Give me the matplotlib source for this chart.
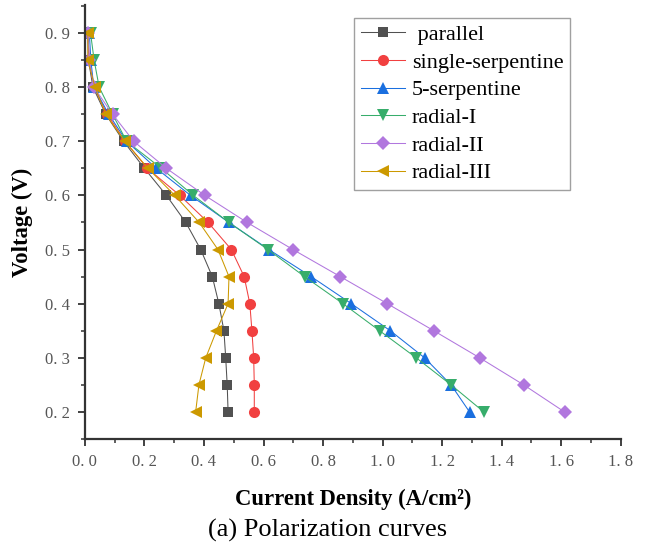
import numpy as np
import matplotlib
matplotlib.use('Agg')
import matplotlib.pyplot as plt
from matplotlib.ticker import MultipleLocator, FuncFormatter

# voltage steps shared by all curves
voltage = [0.9, 0.85, 0.8, 0.75, 0.7, 0.65, 0.6, 0.55, 0.5, 0.45, 0.4, 0.35, 0.3, 0.25, 0.2]

# current density (A/cm2)
parallel = [0.010, 0.012, 0.027, 0.070, 0.130, 0.200, 0.274, 0.339, 0.389, 0.428, 0.450, 0.467, 0.473, 0.478, 0.481]
single_serp = [0.010, 0.015, 0.030, 0.075, 0.135, 0.210, 0.319, 0.414, 0.492, 0.535, 0.554, 0.561, 0.567, 0.569, 0.569]
five_serp = [0.015, 0.020, 0.030, 0.080, 0.140, 0.240, 0.355, 0.484, 0.618, 0.760, 0.895, 1.026, 1.141, 1.230, 1.292]
radial_1 = [0.019, 0.031, 0.048, 0.093, 0.140, 0.257, 0.364, 0.484, 0.615, 0.738, 0.867, 0.990, 1.113, 1.230, 1.340]
radial_2 = [0.010, 0.015, 0.030, 0.093, 0.164, 0.274, 0.403, 0.545, 0.699, 0.858, 1.016, 1.172, 1.326, 1.474, 1.611]
radial_3 = [0.010, 0.010, 0.034, 0.070, 0.134, 0.212, 0.302, 0.384, 0.447, 0.484, 0.481, 0.442, 0.406, 0.383, 0.372]

labels = [' parallel', 'single-serpentine', '5-serpentine', 'radial-I', 'radial-II', 'radial-III']
series = [parallel, single_serp, five_serp, radial_1, radial_2, radial_3]
colors = ['#515151', '#F14040', '#1A6FDF', '#37AD6B', '#B177DE', '#CC9900']
markers = ['s', 'o', '^', 'v', 'D', '<']
msizes = [7, 8, 8.5, 8.5, 7, 8.5]

plt.rcParams['font.family'] = ['Liberation Serif', 'DejaVu Serif']

fig = plt.figure(figsize=(6.48, 5.44), dpi=100)
ax = fig.add_axes([0.131, 0.193, 0.827, 0.798])

for xs, lab, c, m, ms in zip(series, labels, colors, markers, msizes):
    ax.plot(xs, voltage, color=c, lw=0.75, marker=m, markersize=ms,
            markeredgewidth=0, label=lab)

ax.set_xlim(0, 1.8)
ax.set_ylim(0.15, 0.952)
ax.xaxis.set_major_locator(MultipleLocator(0.2))
ax.xaxis.set_minor_locator(MultipleLocator(0.1))
ax.yaxis.set_major_locator(MultipleLocator(0.1))
ax.yaxis.set_minor_locator(MultipleLocator(0.05))
fmt = FuncFormatter(lambda v, p: ('%.1f' % v).replace('.', '. '))
ax.xaxis.set_major_formatter(fmt)
ax.yaxis.set_major_formatter(fmt)

for s in ['top', 'right']:
    ax.spines[s].set_visible(False)
for s in ['left', 'bottom']:
    ax.spines[s].set_linewidth(1.6)
    ax.spines[s].set_color('#333333')

ax.tick_params(which='major', direction='out', length=5, width=1.3,
               color='#333333', labelsize=12, labelcolor='#555555', pad=6)
ax.tick_params(which='minor', direction='out', length=3, width=1.1, color='#333333')

ax.set_xlabel('Current Density (A/cm\u00b2)', fontsize=16.3, fontweight='bold', labelpad=13)
ax.set_ylabel('Voltage (V)', fontsize=16.3, fontweight='bold', labelpad=8)

leg = ax.legend(loc='upper left', bbox_to_anchor=(0.502, 0.97), fontsize=16,
                frameon=True, fancybox=False, edgecolor='#888888',
                handlelength=2.0, handletextpad=0.3, labelspacing=0.32,
                borderpad=0.3, borderaxespad=0)
leg.get_frame().set_linewidth(1.0)

fig.text(0.505, 0.024, '(a) Polarization curves', ha='center', va='center', fontsize=19)

fig.savefig('out.png', dpi=100)
